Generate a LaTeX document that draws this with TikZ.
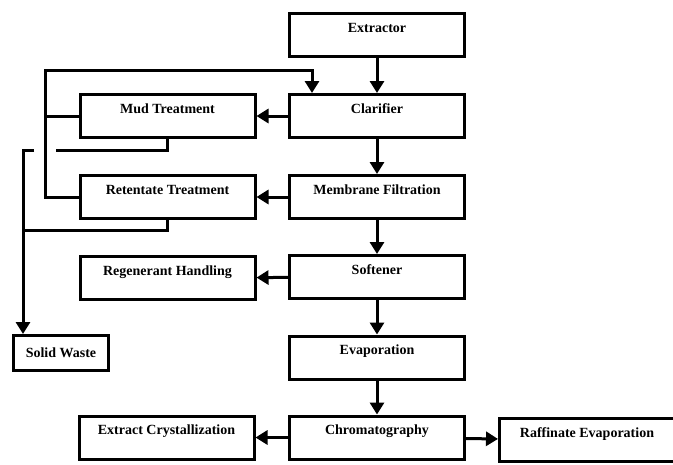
\documentclass[tikz,border=0pt]{standalone}
\usepackage{fontspec}
\setmainfont{Liberation Serif}
\usepackage{tikz}
\usetikzlibrary{arrows.meta,positioning}
\tikzstyle{line} = [draw, line width=3pt, -{Triangle[length=12pt,width=14pt]}]
\tikzstyle{pipe} = [draw, line width=3pt, line cap=rect]
\tikzstyle{block} = [draw, line width=3pt, minimum width=175pt, inner xsep=4pt, inner ysep=4pt, text height=14.5pt, text depth=20.5pt]
\tikzset{
    every node/.style={font=\fontsize{14}{16}\selectfont\bfseries}
}
\begin{document}
\begin{tikzpicture}[x=1pt,y=-1pt]
\useasboundingbox (0,0) rectangle (673,464);

% Main process line
\node[block] (extractor) at (377,35) {Extractor};
\node[block] (clarifier) at (377,116) {Clarifier};
\node[block] (membrane) at (377,197) {Membrane Filtration};
\node[block] (softener) at (377,277) {Softener};
\node[block] (evaporation) at (377,357.5) {Evaporation};
\node[block] (chromatography) at (377,437.5) {Chromatography};

% Side streams
\node[block] (mud) at (167.5,116) {Mud Treatment};
\node[block] (retentate) at (167.5,197) {Retentate Treatment};
\node[block] (regenerant) at (167.5,278) {Regenerant Handling};
\node[block] (extract) at (166.5,437.5) {Extract Crystallization};
\node[block] (raffinate) at (587,440) {Raffinate Evaporation};
\node[block, minimum width=95pt, text height=18pt, text depth=9pt] (waste) at (61,353) {Solid Waste};

% Main flow
\path[line] (extractor) -- (clarifier);
\path[line] (clarifier) -- (membrane);
\path[line] (membrane) -- (softener);
\path[line] (softener) -- (evaporation);
\path[line] (evaporation) -- (chromatography);

% Branches
\path[line] (clarifier) -- (mud);
\path[line] (membrane) -- (retentate);
\path[line] (softener) -- (regenerant);
\path[line] (chromatography) -- (extract);
\path[line] (chromatography) -- (raffinate);

% Recycle to clarifier
\coordinate (recycle) at (45,70);
\coordinate (feed) at (312,70);
\draw[pipe] (mud.west) -- (mud.west -| recycle);
\path[line] (retentate.west) -| (recycle) -- (feed) -- (feed |- clarifier.north);

% Solids to waste
\coordinate (gapleft) at (34,150);
\coordinate (gapright) at (57,150);
\coordinate (drop) at (23,150);
\coordinate (join) at (23,230);
\draw[pipe] (mud.south) |- (gapright);
\path[line] (gapleft) -- (drop) -- (drop |- waste.north);
\draw[pipe] (retentate.south) |- (join);
\end{tikzpicture}
\end{document}
